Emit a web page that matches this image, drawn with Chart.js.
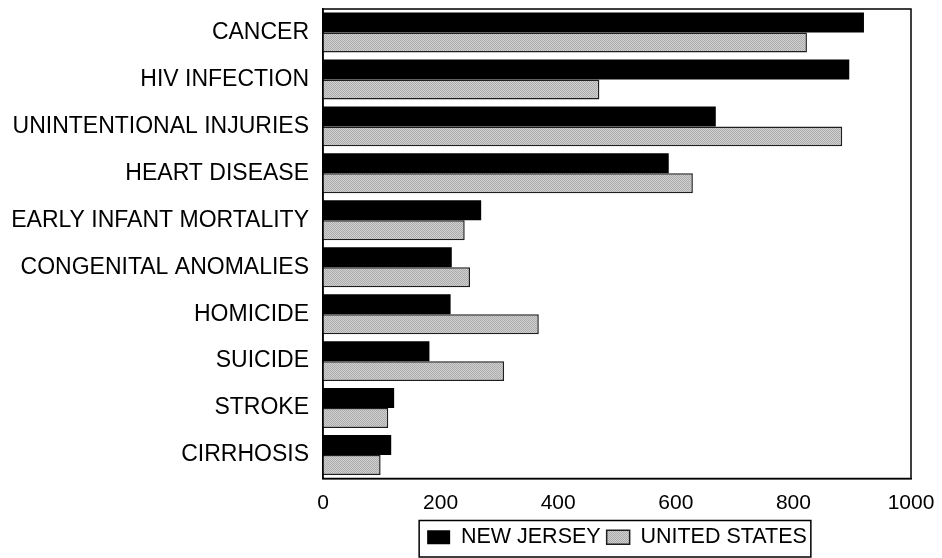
<!DOCTYPE html>
<html>
<head>
<meta charset="utf-8">
<script src="https://cdn.jsdelivr.net/npm/chart.js@4.4.1/dist/chart.umd.min.js"></script>
<style>
  html, body { margin: 0; padding: 0; background: #fff; }
</style>
</head>
<body>
<canvas id="chart-causes" width="942" height="558"></canvas>
<script>
// leading causes, top to bottom
var causes = ["CANCER", "HIV INFECTION", "UNINTENTIONAL INJURIES", "HEART DISEASE",
    "EARLY INFANT MORTALITY", "CONGENITAL ANOMALIES", "HOMICIDE", "SUICIDE",
    "STROKE", "CIRRHOSIS"];
var newJersey = [920, 895, 668, 588, 269, 219, 217, 181, 121, 116];
var unitedStates = [823, 470, 883, 629, 241, 250, 367, 308, 111, 98];
var xTicks = [0, 200, 400, 600, 800, 1000];

// fine grey dither like the old print fill
function greyFill() {
    var c = document.createElement("canvas");
    c.width = 2; c.height = 2;
    var g = c.getContext("2d");
    g.fillStyle = "#d0d0d0"; g.fillRect(0, 0, 2, 2);
    g.fillStyle = "#acacac"; g.fillRect(0, 0, 1, 1); g.fillRect(1, 1, 1, 1);
    return g.createPattern(c, "repeat");
}

var frame = {
    id: "frame",
    afterLayout: function (chart) {
        // centre the legend under the plot, not the whole canvas
        var lg = chart.legend, a = chart.chartArea;
        lg.left = a.left;
        lg.right = a.right;
        lg.width = a.right - a.left;
    },
    afterDraw: function (chart) {
        var a = chart.chartArea, ctx = chart.ctx;
        ctx.save();
        ctx.strokeStyle = "#000";
        ctx.lineWidth = 1.5;
        ctx.strokeRect(a.left, a.top, a.right - a.left, a.bottom - a.top);
        var hb = chart.legend.legendHitBoxes;
        if (hb && hb.length) {
            var last = hb[hb.length - 1];
            var l = hb[0].left - 8, r = last.left + last.width + 4;
            var t = chart.legend.top;
            ctx.strokeRect(l, t, r - l, chart.height - 1 - t);
        }
        ctx.restore();
    }
};

var family = "'Liberation Sans', Arial, sans-serif";

new Chart(document.getElementById("chart-causes"), {
    type: "bar",
    data: {
        labels: causes,
        datasets: [{
            label: "NEW JERSEY",
            data: newJersey,
            backgroundColor: "#000",
            borderColor: "#000",
            borderWidth: 0
        }, {
            label: "UNITED STATES",
            data: unitedStates,
            backgroundColor: greyFill(),
            borderColor: "#1e1e1e",
            borderWidth: 1.5
        }]
    },
    options: {
        indexAxis: "y",
        responsive: false,
        animation: false,
        datasets: { bar: { categoryPercentage: 0.85, barPercentage: 1.0 } },
        layout: { padding: { top: 9, right: 31, left: 0, bottom: 0 } },
        scales: {
            x: {
                min: xTicks[0],
                max: xTicks[xTicks.length - 1],
                ticks: {
                    stepSize: xTicks[1] - xTicks[0],
                    color: "#000",
                    font: { family: family, size: 21 },
                    padding: 12,
                    callback: function (v) { return String(v); }
                },
                grid: { display: false, drawTicks: false },
                border: { display: true, color: "#000", width: 1.5 },
                afterFit: function (s) { s.height = 42; s.paddingLeft = 0; s.paddingRight = 0; }
            },
            y: {
                ticks: { color: "#000", font: { family: family, size: 23 }, padding: 14, autoSkip: false },
                grid: { display: false, drawTicks: false },
                border: { display: true, color: "#000", width: 1.5 },
                afterFit: function (s) { s.width = 323; s.paddingTop = 0; s.paddingBottom = 0; }
            }
        },
        plugins: {
            legend: {
                position: "bottom",
                labels: { color: "#000", font: { family: family, size: 21.5 }, boxWidth: 23, boxHeight: 14, padding: 6 }
            },
            tooltip: { enabled: false }
        }
    },
    plugins: [frame]
});
</script>
</body>
</html>
